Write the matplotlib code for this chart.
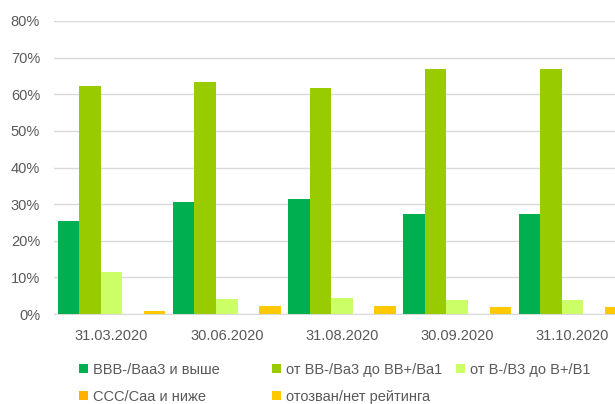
import numpy as np
import matplotlib.pyplot as plt

dates = ["31.03.2020", "30.06.2020", "31.08.2020", "30.09.2020", "31.10.2020"]
series_names = ["BBB-/Baa3 и выше", "от BB-/Ba3 до BB+/Ba1", "от B-/B3 до B+/B1",
                "CCC/Caa и ниже", "отозван/нет рейтинга"]
bbb = [25.3, 30.5, 31.5, 27.2, 27.2]
bb = [62.2, 63.3, 61.8, 66.8, 67.0]
b = [11.4, 4.0, 4.5, 3.7, 3.7]
ccc = [0.0, 0.0, 0.0, 0.0, 0.0]
withdrawn = [0.8, 2.1, 2.2, 1.9, 1.9]
colors = ["#00B050", "#99CC00", "#CCFF66", "#FFB000", "#FFC800"]

plt.rcParams['font.family'] = ['Liberation Sans', 'DejaVu Sans']
text_color = "#595959"

fig = plt.figure(figsize=(6.15, 4.04), dpi=100)
# the original chart is cut off on the right, so the axes run past the figure edge
ax = fig.add_axes([54 / 615, 90 / 404, 576 / 615, 293 / 404])

x = np.arange(len(dates))
width = 0.187
all_series = [bbb, bb, b, ccc, withdrawn]
handles = []
for i, (vals, col) in enumerate(zip(all_series, colors)):
    h = ax.bar(x + (i - 2) * width, vals, width, color=col, label=series_names[i], zorder=3)
    handles.append(h)

ax.set_xlim(-0.5, len(dates) - 0.5)
ax.set_ylim(0, 80)
ax.set_yticks(range(0, 81, 10))
ax.set_yticklabels([f"{v}%" for v in range(0, 81, 10)])
ax.set_xticks(x)
ax.set_xticklabels(dates)
ax.grid(axis='y', color="#D9D9D9", linewidth=1, zorder=0)
for s in ["top", "right", "left"]:
    ax.spines[s].set_visible(False)
ax.spines["bottom"].set_color("#D9D9D9")
ax.tick_params(axis='both', length=0, colors=text_color, labelsize=10.5)
ax.tick_params(axis='y', pad=10)
ax.tick_params(axis='x', pad=11)

# legend items placed like Excel: equal-width columns, two rows
legend_pos = [(79, 370), (272, 370), (456, 370), (79, 397), (272, 397)]
for i, (lx, ly) in enumerate(legend_pos):
    leg = fig.legend([handles[i]], [series_names[i]], loc="center left",
                     bbox_to_anchor=(lx / 615, 1 - ly / 404), frameon=False,
                     fontsize=10.5, handlelength=0.6, handleheight=0.6,
                     handletextpad=0.35, borderpad=0, borderaxespad=0)
    for t in leg.get_texts():
        t.set_color(text_color)

fig.savefig("out.png", dpi=100)
